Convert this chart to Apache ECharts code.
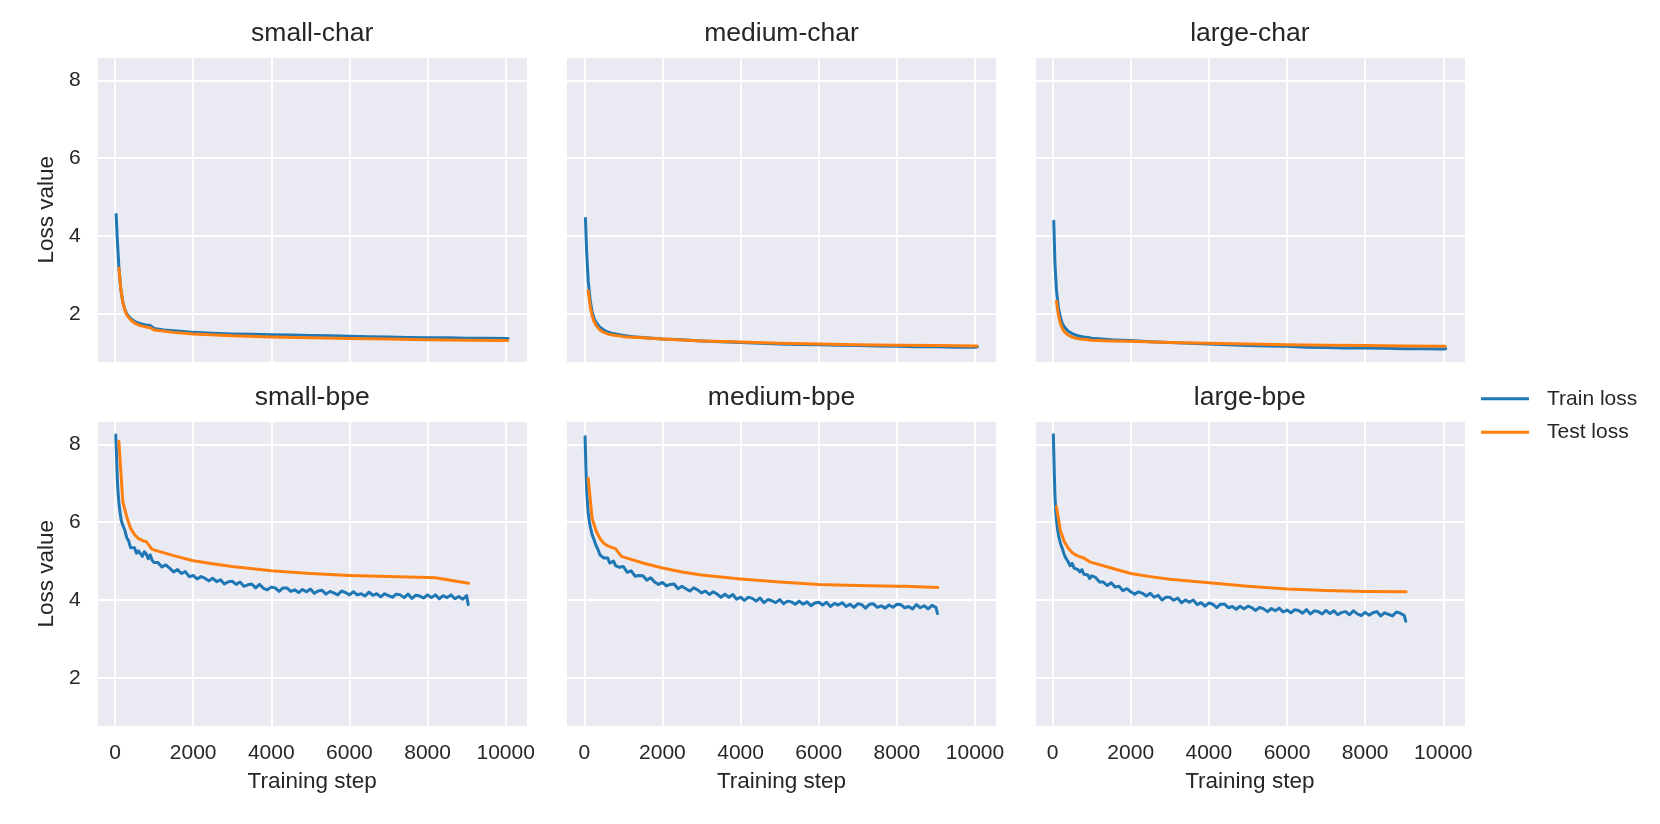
<!DOCTYPE html>
<html>
<head>
<meta charset="utf-8">
<script src="https://cdn.jsdelivr.net/npm/echarts@6/dist/echarts.min.js"></script>
<style>
html,body{margin:0;padding:0;background:#ffffff;}
#chart{width:1660px;height:824px;}
</style>
</head>
<body>
<div id="chart"></div>
<script>
// ---------------- DATA ----------------
const PANEL_TITLES = ['small-char', 'medium-char', 'large-char', 'small-bpe', 'medium-bpe', 'large-bpe'];
const SERIES_NAMES = ['Train loss', 'Test loss'];
const X_LABEL = 'Training step';
const Y_LABEL = 'Loss value';

// training steps for char models (train loss)
const STEPS_CHAR_TRAIN = [30, 60, 100, 150, 200, 250, 300, 400, 500, 600, 700, 800, 900, 950, 1000, 1250, 1500, 1750, 2000, 2500, 3000, 3500, 4000, 4500, 5000, 5500, 6000, 6500, 7000, 7500, 8000, 8500, 9000, 9500, 10000, 10060];
// evaluation steps for char models (test loss)
const STEPS_CHAR_TEST = [100, 150, 200, 250, 300, 400, 500, 600, 700, 800, 900, 950, 1000, 1500, 2000, 3000, 4000, 5000, 6000, 7000, 8000, 9000, 10000, 10050];

const SMALL_CHAR_TRAIN = [4.55, 3.90, 3.20, 2.62, 2.30, 2.12, 2.00, 1.88, 1.80, 1.76, 1.73, 1.71, 1.70, 1.69, 1.62, 1.58, 1.56, 1.54, 1.52, 1.50, 1.48, 1.47, 1.46, 1.45, 1.44, 1.43, 1.42, 1.41, 1.40, 1.39, 1.38, 1.38, 1.37, 1.37, 1.36, 1.36];
const SMALL_CHAR_TEST = [3.17, 2.62, 2.30, 2.10, 1.97, 1.84, 1.76, 1.71, 1.68, 1.66, 1.64, 1.63, 1.58, 1.52, 1.48, 1.43, 1.40, 1.38, 1.36, 1.35, 1.33, 1.32, 1.31, 1.31];

const MEDIUM_CHAR_TRAIN = [4.45, 3.60, 2.85, 2.35, 2.05, 1.88, 1.78, 1.65, 1.58, 1.53, 1.50, 1.48, 1.46, 1.45, 1.44, 1.41, 1.39, 1.37, 1.35, 1.33, 1.30, 1.28, 1.26, 1.24, 1.22, 1.21, 1.20, 1.19, 1.18, 1.17, 1.16, 1.15, 1.15, 1.14, 1.14, 1.15];
const MEDIUM_CHAR_TEST = [2.59, 2.20, 1.95, 1.80, 1.70, 1.58, 1.52, 1.48, 1.46, 1.44, 1.43, 1.42, 1.41, 1.38, 1.35, 1.30, 1.27, 1.24, 1.22, 1.20, 1.19, 1.18, 1.17, 1.17];

const LARGE_CHAR_TRAIN = [4.38, 3.30, 2.60, 2.15, 1.90, 1.75, 1.66, 1.55, 1.49, 1.45, 1.42, 1.40, 1.39, 1.38, 1.37, 1.35, 1.33, 1.32, 1.31, 1.28, 1.26, 1.24, 1.22, 1.20, 1.18, 1.17, 1.16, 1.14, 1.13, 1.12, 1.12, 1.11, 1.10, 1.10, 1.09, 1.10];
const LARGE_CHAR_TEST = [2.32, 1.95, 1.75, 1.62, 1.54, 1.45, 1.40, 1.37, 1.35, 1.34, 1.33, 1.33, 1.32, 1.30, 1.29, 1.26, 1.24, 1.22, 1.20, 1.19, 1.18, 1.17, 1.16, 1.16];

// training steps for bpe models (train loss)
const STEPS_BPE_TRAIN = [20, 40, 60, 80, 100, 130, 160, 200, 250, 300, 350, 400, 450, 500, 550, 600, 650, 700, 750, 800, 850, 900, 950, 1000,
  1100, 1200, 1300, 1400, 1500, 1600, 1700, 1800, 1900, 2000,
  2100, 2200, 2300, 2400, 2500, 2600, 2700, 2800, 2900, 3000,
  3100, 3200, 3300, 3400, 3500, 3600, 3700, 3800, 3900, 4000,
  4100, 4200, 4300, 4400, 4500, 4600, 4700, 4800, 4900, 5000,
  5100, 5200, 5300, 5400, 5500, 5600, 5700, 5800, 5900, 6000,
  6100, 6200, 6300, 6400, 6500, 6600, 6700, 6800, 6900, 7000,
  7100, 7200, 7300, 7400, 7500, 7600, 7700, 7800, 7900, 8000,
  8100, 8200, 8300, 8400, 8500, 8600, 8700, 8800, 8900, 9000, 9040];
// evaluation steps for bpe models (test loss)
const STEPS_BPE_TEST = [100, 200, 300, 400, 500, 600, 700, 800, 850, 950, 1000, 1500, 2000, 2500, 3000, 4000, 5000, 6000, 7000, 8000, 8200, 9050];

const SMALL_BPE_TRAIN = [8.24, 7.70, 7.10, 6.75, 6.50, 6.25, 6.05, 5.92, 5.80, 5.60, 5.52, 5.34, 5.30, 5.34, 5.20, 5.26, 5.22, 5.12, 5.24, 5.18, 5.06, 5.16, 5.02, 4.96,
  4.96, 4.85, 4.90, 4.82, 4.72, 4.78, 4.68, 4.73, 4.60, 4.63,
  4.54, 4.60, 4.56, 4.49, 4.56, 4.47, 4.52, 4.41, 4.47, 4.48,
  4.40, 4.46, 4.35, 4.39, 4.41, 4.31, 4.40, 4.30, 4.26, 4.33,
  4.31, 4.22, 4.31, 4.31, 4.22, 4.26, 4.19, 4.27, 4.21, 4.28,
  4.17, 4.23, 4.25, 4.15, 4.22, 4.18, 4.13, 4.23, 4.19, 4.13,
  4.21, 4.13, 4.16, 4.10, 4.20, 4.12, 4.16, 4.08, 4.16, 4.11,
  4.07, 4.15, 4.13, 4.06, 4.15, 4.04, 4.12, 4.10, 4.05, 4.13,
  4.06, 4.13, 4.03, 4.11, 4.06, 4.13, 4.03, 4.09, 4.02, 4.11, 3.88];
const SMALL_BPE_TEST = [8.08, 6.52, 6.14, 5.84, 5.68, 5.58, 5.53, 5.50, 5.49, 5.30, 5.28, 5.14, 5.01, 4.93, 4.86, 4.75, 4.68, 4.63, 4.60, 4.58, 4.57, 4.43];

const MEDIUM_BPE_TRAIN = [8.20, 7.45, 6.85, 6.50, 6.25, 6.02, 5.85, 5.68, 5.55, 5.40, 5.30, 5.16, 5.12, 5.08, 5.04, 5.08, 4.95, 4.98, 5.00, 4.88, 4.92, 4.84, 4.80, 4.86,
  4.71, 4.75, 4.61, 4.63, 4.62, 4.51, 4.57, 4.46, 4.40, 4.45,
  4.36, 4.40, 4.41, 4.29, 4.35, 4.29, 4.23, 4.31, 4.26, 4.18,
  4.23, 4.14, 4.21, 4.15, 4.07, 4.15, 4.07, 4.14, 4.02, 4.07,
  3.99, 4.07, 4.04, 3.97, 4.05, 3.93, 4.01, 3.98, 3.93, 4.01,
  3.90, 3.97, 3.95, 3.89, 3.97, 3.89, 3.95, 3.85, 3.92, 3.94,
  3.87, 3.94, 3.83, 3.91, 3.87, 3.93, 3.83, 3.89, 3.81, 3.90,
  3.88, 3.79, 3.89, 3.90, 3.81, 3.85, 3.79, 3.87, 3.81, 3.89,
  3.88, 3.80, 3.83, 3.77, 3.88, 3.80, 3.85, 3.77, 3.86, 3.81, 3.65];
const MEDIUM_BPE_TEST = [7.13, 6.10, 5.78, 5.58, 5.46, 5.39, 5.35, 5.32, 5.30, 5.12, 5.10, 4.95, 4.82, 4.72, 4.64, 4.54, 4.46, 4.40, 4.37, 4.35, 4.35, 4.32];

const LARGE_BPE_TRAIN = [8.25, 7.40, 6.70, 6.30, 6.05, 5.80, 5.62, 5.46, 5.32, 5.16, 5.06, 4.98, 4.88, 4.94, 4.82, 4.84, 4.78, 4.72, 4.78, 4.66, 4.70, 4.64, 4.55, 4.62,
  4.58, 4.46, 4.46, 4.37, 4.44, 4.33, 4.35, 4.24, 4.29, 4.21,
  4.15, 4.21, 4.17, 4.10, 4.17, 4.07, 4.12, 4.00, 4.07, 4.07,
  3.99, 4.05, 3.93, 4.00, 3.94, 4.00, 3.88, 3.93, 3.84, 3.92,
  3.89, 3.80, 3.89, 3.89, 3.80, 3.83, 3.76, 3.84, 3.77, 3.84,
  3.80, 3.73, 3.81, 3.77, 3.70, 3.78, 3.72, 3.79, 3.69, 3.74,
  3.67, 3.75, 3.73, 3.66, 3.75, 3.64, 3.72, 3.70, 3.64, 3.73,
  3.65, 3.72, 3.62, 3.68, 3.70, 3.62, 3.72, 3.64, 3.60, 3.68,
  3.61, 3.67, 3.70, 3.59, 3.67, 3.63, 3.59, 3.69, 3.66, 3.60, 3.45];
const LARGE_BPE_TEST = [6.40, 5.78, 5.50, 5.33, 5.22, 5.15, 5.11, 5.08, 5.06, 4.98, 4.96, 4.82, 4.68, 4.60, 4.53, 4.44, 4.35, 4.28, 4.24, 4.22, 4.22, 4.21];

const X_RANGE = [-468, 10563];
const Y_RANGE = [0.74, 8.61];

// ---------------- LAYOUT / STYLE ----------------
const PANEL_DATA = [
  [STEPS_CHAR_TRAIN, SMALL_CHAR_TRAIN, STEPS_CHAR_TEST, SMALL_CHAR_TEST],
  [STEPS_CHAR_TRAIN, MEDIUM_CHAR_TRAIN, STEPS_CHAR_TEST, MEDIUM_CHAR_TEST],
  [STEPS_CHAR_TRAIN, LARGE_CHAR_TRAIN, STEPS_CHAR_TEST, LARGE_CHAR_TEST],
  [STEPS_BPE_TRAIN, SMALL_BPE_TRAIN, STEPS_BPE_TEST, SMALL_BPE_TEST],
  [STEPS_BPE_TRAIN, MEDIUM_BPE_TRAIN, STEPS_BPE_TEST, MEDIUM_BPE_TEST],
  [STEPS_BPE_TRAIN, LARGE_BPE_TRAIN, STEPS_BPE_TEST, LARGE_BPE_TEST]
];
const COL_LEFT = [96.7, 566, 1034.3];
const ROW_TOP = [56.7, 420.7];
const GW = 431, GH = 306;
const FONT = '"Liberation Sans", Arial, Helvetica, sans-serif';
const TXT = '#262626';
const BLUE = '#1f77b4', ORANGE = '#ff7f0e';

function zip(xs, ys) { return xs.map((x, i) => [x, ys[i]]); }

const grids = [], xAxes = [], yAxes = [], series = [], graphics = [];
PANEL_TITLES.forEach((title, i) => {
  const r = Math.floor(i / 3), c = i % 3;
  const left = COL_LEFT[c], top = ROW_TOP[r];
  grids.push({left: left, top: top, width: GW, height: GH, show: true, backgroundColor: '#EAEAF2', borderWidth: 0, containLabel: false});
  xAxes.push({
    type: 'value', gridIndex: i, min: X_RANGE[0], max: X_RANGE[1],
    axisLine: {show: false}, axisTick: {show: false},
    axisLabel: {show: r === 1, showMinLabel: false, showMaxLabel: false, fontSize: 21, color: TXT, fontFamily: FONT, margin: 16,
      formatter: v => String(v)},
    splitLine: {show: true, lineStyle: {color: '#ffffff', width: 1.8}}
  });
  yAxes.push({
    type: 'value', gridIndex: i, min: Y_RANGE[0], max: Y_RANGE[1],
    axisLine: {show: false}, axisTick: {show: false},
    axisLabel: {show: c === 0, showMinLabel: false, showMaxLabel: false, fontSize: 21, color: TXT, fontFamily: FONT, margin: 16,
      formatter: v => String(v)},
    splitLine: {show: true, lineStyle: {color: '#ffffff', width: 1.8}}
  });
  const d = PANEL_DATA[i];
  series.push({
    name: SERIES_NAMES[0], type: 'line', xAxisIndex: i, yAxisIndex: i,
    data: zip(d[0], d[1]), showSymbol: false, symbol: 'none', color: BLUE,
    lineStyle: {color: BLUE, width: 3, join: 'round', cap: 'round'}, animation: false, silent: true
  });
  series.push({
    name: SERIES_NAMES[1], type: 'line', xAxisIndex: i, yAxisIndex: i,
    data: zip(d[2], d[3]), showSymbol: false, symbol: 'none', color: ORANGE,
    lineStyle: {color: ORANGE, width: 3, join: 'round', cap: 'round'}, animation: false, silent: true
  });
  graphics.push({
    type: 'text', x: left + GW / 2, y: r === 0 ? 34 : 397.7,
    style: {text: title, fill: TXT, font: '26.5px ' + FONT, textAlign: 'center', textVerticalAlign: 'middle', align: 'center', verticalAlign: 'middle'}
  });
  if (r === 1) {
    graphics.push({
      type: 'text', x: left + GW / 2, y: 782,
      style: {text: X_LABEL, fill: TXT, font: '22.5px ' + FONT, textAlign: 'center', textVerticalAlign: 'middle', align: 'center', verticalAlign: 'middle'}
    });
  }
  if (c === 0) {
    graphics.push({
      type: 'text', x: 47, y: top + GH / 2, rotation: Math.PI / 2,
      style: {text: Y_LABEL, fill: TXT, font: '22.5px ' + FONT, textAlign: 'center', textVerticalAlign: 'middle', align: 'center', verticalAlign: 'middle'}
    });
  }
});

const chart = echarts.init(document.getElementById('chart'), null, {renderer: 'canvas'});
chart.setOption({
  animation: false,
  backgroundColor: '#ffffff',
  textStyle: {fontFamily: FONT},
  grid: grids,
  xAxis: xAxes,
  yAxis: yAxes,
  series: series,
  legend: {
    data: SERIES_NAMES, orient: 'vertical', left: 1476, top: 383.3,
    icon: 'rect', itemWidth: 48, itemHeight: 3, itemGap: 12.4,
    textStyle: {fontSize: 21, color: TXT, fontFamily: FONT, lineHeight: 20, padding: [0, 0, 0, 13]},
    selectedMode: false
  },
  graphic: graphics
});
</script>
</body>
</html>
